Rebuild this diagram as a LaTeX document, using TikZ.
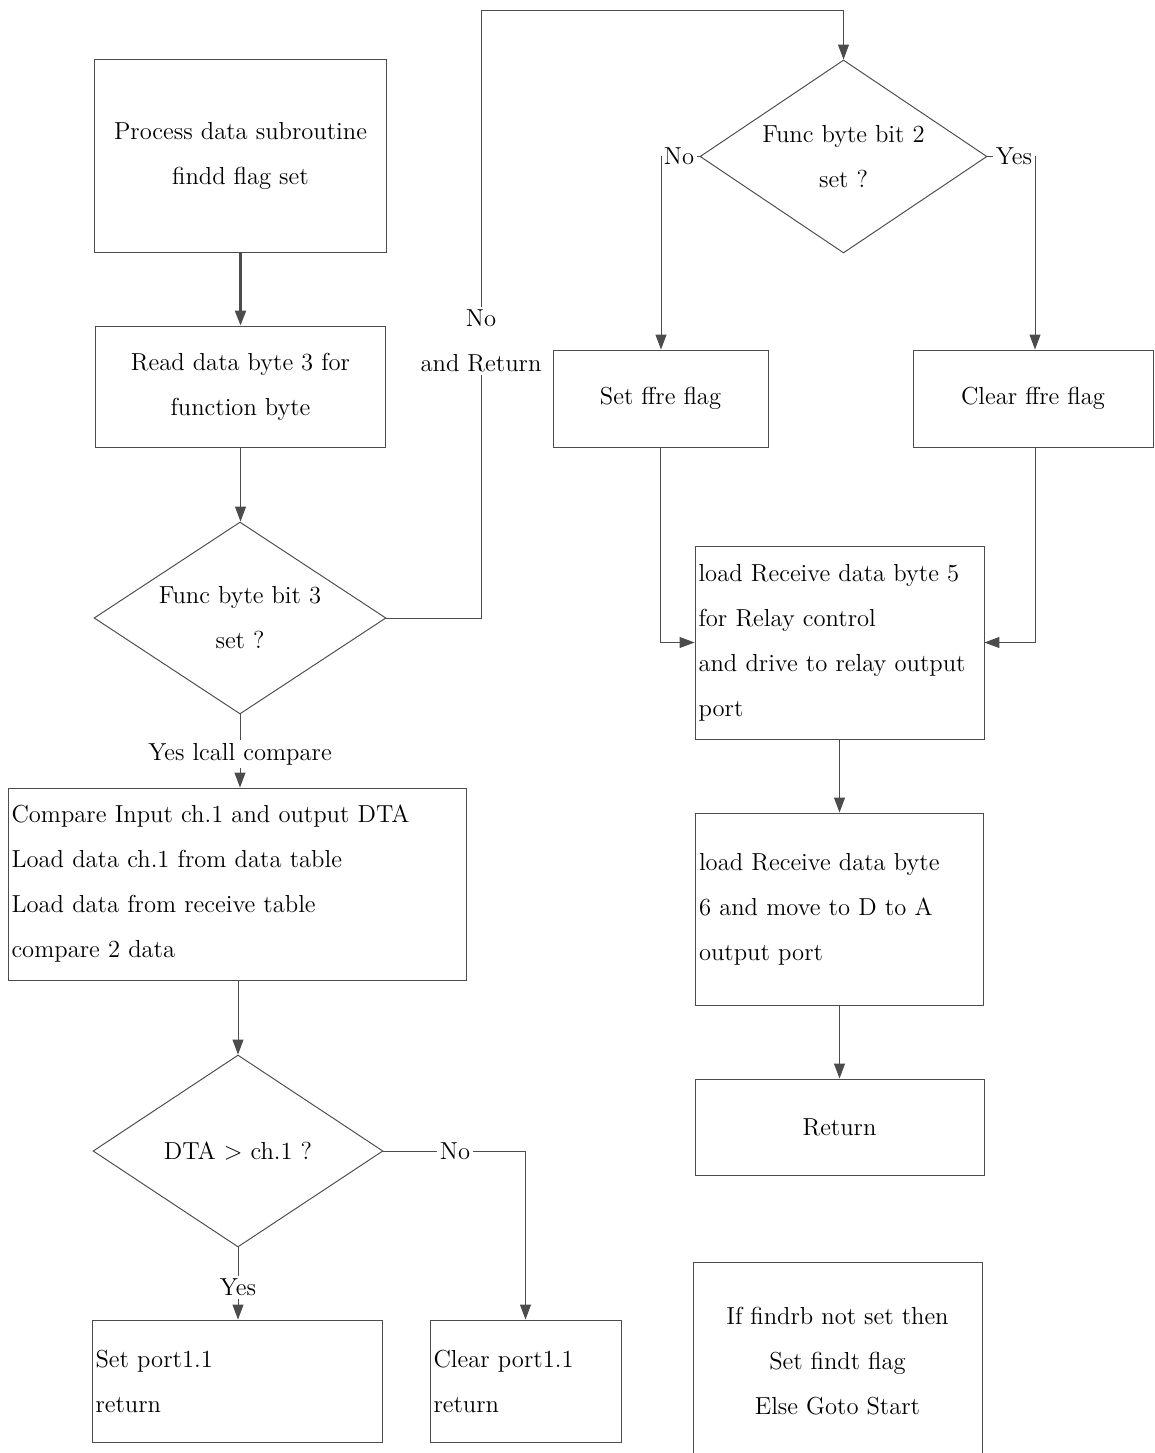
\documentclass[tikz,border=0pt]{standalone}
\usetikzlibrary{shapes.geometric,arrows.meta}
\begin{document}
\begin{tikzpicture}[x=0.02cm,y=-0.02cm,
        every node/.style={font=\fontsize{14}{25.6}\selectfont, text=black},
        box/.style={draw=black!70, line width=0.55pt, rectangle, align=center, inner sep=2pt},
        leftbox/.style={box, align=left},
        decision/.style={draw=black!70, line width=0.55pt, diamond, aspect=1.5, align=center, inner sep=0pt},
        lbl/.style={inner sep=1.5pt, align=center},
        line/.style={draw=black!70, line width=0.55pt},
        arr/.style={line, -{Triangle[length=0.3cm,width=0.22cm]}}]
        \useasboundingbox (0,0) rectangle (1154,1453);

        % left column
        \node[box, minimum width=5.84cm, minimum height=3.88cm] (procdata) at (240.5,156) {Process data subroutine\\findd flag set};
        \node[box, minimum width=5.82cm, minimum height=2.42cm] (readbyte) at (240.5,386.5) {Read data byte 3 for\\function byte};
        \node[decision, minimum width=5.84cm, minimum height=3.84cm] (bitthree) at (240,618) {Func byte bit 3\\set ?};
        \node[lbl] (yescall) at (240,754) {Yes lcall compare};
        \node[leftbox, minimum width=9.18cm, minimum height=3.84cm, text width=9.04cm] (compare) at (237.5,884) {Compare Input ch.1 and output DTA\\Load data ch.1 from data table\\Load data from receive table\\compare 2 data};
        \node[decision, minimum width=5.8cm, minimum height=3.84cm] (dtatest) at (238,1151) {DTA > ch.1 ?};
        \node[lbl] (dtano) at (455,1151) {No};
        \node[lbl] (dtayes) at (238,1287) {Yes};
        \node[leftbox, minimum width=5.8cm, minimum height=2.44cm, text width=5.66cm] (setport) at (237,1381) {Set port1.1\\return};
        \node[leftbox, minimum width=3.82cm, minimum height=2.44cm, text width=3.68cm] (clrport) at (525.5,1381) {Clear port1.1\\return};

        % return path
        \node[lbl] (noreturn) at (481,341) {No\\and Return};
        \coordinate (topturn) at (481,10);

        % right column
        \node[decision, minimum width=5.74cm, minimum height=3.86cm] (bittwo) at (843.5,156.5) {Func byte bit 2\\set ?};
        \node[lbl, anchor=west] (twono) at (661,156.5) {No};
        \node[lbl, anchor=east] (twoyes) at (1035,156.5) {Yes};
        \node[box, minimum width=4.3cm, minimum height=1.94cm] (setffre) at (660.5,398.5) {Set ffre flag};
        \node[box, minimum width=4.8cm, minimum height=1.94cm] (clrffre) at (1033,398.5) {Clear ffre flag};
        \node[leftbox, minimum width=5.78cm, minimum height=3.86cm, text width=5.64cm] (relay) at (839.5,642.5) {load Receive data byte 5\\for Relay control\\and drive to relay output\\port};
        \node[leftbox, minimum width=5.76cm, minimum height=3.84cm, text width=5.62cm] (dtoa) at (839.5,909) {load Receive data byte\\6 and move to D to A\\output port};
        \node[box, minimum width=5.78cm, minimum height=1.92cm] (ret) at (839.5,1127) {Return};
        \node[box, minimum width=5.78cm, minimum height=3.96cm] (findrb) at (837.5,1361) {If findrb not set then\\Set findt flag\\Else Goto Start};

        % connectors
        \draw[arr, line width=1.3pt] (procdata.south) -- (readbyte.north);
        \draw[arr] (readbyte.south) -- (readbyte.south |- bitthree.north);
        \draw[line] (bitthree.east) -| (noreturn.south);
        \draw[arr] (noreturn.north) -- (topturn) -| (bittwo.north);
        \draw[line] (bitthree.south) -- (yescall.north);
        \draw[arr] (yescall.south) -- (yescall.south |- compare.north);
        \draw[arr] (compare.south -| dtatest) -- (dtatest.north);
        \draw[line] (dtatest.east) -- (dtano.west);
        \draw[arr] (dtano.east) -| (clrport.north);
        \draw[line] (dtatest.south) -- (dtayes.north);
        \draw[arr] (dtayes.south) -- (dtayes.south |- setport.north);

        \draw[line] (bittwo.west) -- (twono.east);
        \draw[arr] (twono.west) -- (twono.west |- setffre.north);
        \draw[line] (bittwo.east) -- (twoyes.west);
        \draw[arr] (twoyes.east) -- (twoyes.east |- clrffre.north);
        \draw[arr] (setffre.south) |- (relay.west);
        \draw[arr] (twoyes.east |- clrffre.south) |- (relay.east);
        \draw[arr] (relay.south) -- (dtoa.north);
        \draw[arr] (dtoa.south) -- (ret.north);
    \end{tikzpicture}
\end{document}
